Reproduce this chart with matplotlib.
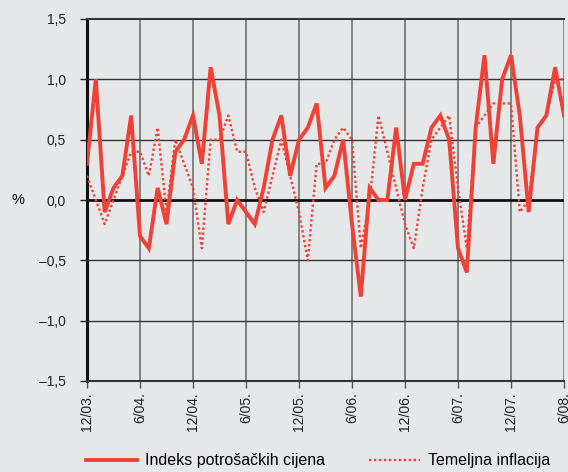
import matplotlib
matplotlib.use("Agg")
import matplotlib.pyplot as plt
from matplotlib.ticker import FuncFormatter

# monthly changes, 12/03 .. 6/08
months = ["12/03.", "6/04.", "12/04.", "6/05.", "12/05.", "6/06.", "12/06.", "6/07.", "12/07.", "6/08."]
cpi = [0.3, 1.0, -0.1, 0.1, 0.2, 0.7, -0.3, -0.4, 0.1, -0.2, 0.4, 0.5,
       0.7, 0.3, 1.1, 0.7, -0.2, 0.0, -0.1, -0.2, 0.1, 0.5, 0.7, 0.2,
       0.5, 0.6, 0.8, 0.1, 0.2, 0.5, -0.2, -0.8, 0.1, 0.0, 0.0, 0.6,
       0.0, 0.3, 0.3, 0.6, 0.7, 0.5, -0.4, -0.6, 0.6, 1.2, 0.3, 1.0,
       1.2, 0.7, -0.1, 0.6, 0.7, 1.1, 0.7]
core = [0.2, 0.0, -0.2, 0.0, 0.2, 0.4, 0.4, 0.2, 0.6, -0.1, 0.5, 0.3,
        0.1, -0.4, 0.5, 0.5, 0.7, 0.4, 0.4, 0.1, -0.1, 0.2, 0.5, 0.2,
        -0.1, -0.5, 0.3, 0.3, 0.5, 0.6, 0.5, -0.4, 0.0, 0.7, 0.4, 0.1,
        -0.2, -0.4, 0.1, 0.5, 0.6, 0.7, 0.1, -0.4, 0.6, 0.7, 0.8, 0.8,
        0.8, -0.1, 0.0, 0.6, 0.7, 1.0, 1.0]

plt.rcParams['font.family'] = ['Liberation Sans', 'DejaVu Sans']
bg = '#e6e7e9'
red = '#ef4136'

fig = plt.figure(figsize=(5.68, 4.72), dpi=100, facecolor=bg)
ax = fig.add_axes([87/568, 1-381/472, 477/568, 362/472], facecolor=bg)

x = list(range(len(cpi)))
ax.plot(x, cpi, color=red, lw=2.8, solid_joinstyle='miter', label='Indeks potrošačkih cijena', zorder=4)
ax.plot(x, core, color=red, lw=1.7, ls=(0, (1, 1.1)), label='Temeljna inflacija', zorder=3)

ax.set_xlim(0, 54)
ax.set_ylim(-1.5, 1.5)
ax.set_xticks(range(0, 55, 6))
ax.set_xticklabels(months, rotation=90, fontsize=10, color='#222222')
ax.set_yticks([-1.5, -1.0, -0.5, 0.0, 0.5, 1.0, 1.5])
ax.yaxis.set_major_formatter(FuncFormatter(lambda v, p: ('%.1f' % v).replace('-', '\u2013').replace('.', ',')))
ax.tick_params(axis='y', labelsize=10, length=5, width=1, colors='#222222', pad=10)
ax.tick_params(axis='x', length=5, width=1, color='#555555', pad=3)

for v in range(6, 55, 6):
    ax.axvline(v, color='#7a7a7a', lw=1.3, zorder=1)
for v in [-1.0, -0.5, 0.5, 1.0]:
    ax.axhline(v, color='#333333', lw=1.0, zorder=1)
ax.axhline(0, color='#111111', lw=2.0, zorder=2)

ax.spines['right'].set_visible(False)
ax.spines['left'].set_linewidth(2.2)
ax.spines['left'].set_color('#111111')
ax.spines['top'].set_linewidth(1.5)
ax.spines['top'].set_color('#333333')
ax.spines['bottom'].set_linewidth(1.5)
ax.spines['bottom'].set_color('#333333')

ax.set_ylabel('%', rotation=0, fontsize=10.5, va='center', ha='center')
ax.yaxis.set_label_coords(-0.145, 0.5)

fig.legend(loc='center', bbox_to_anchor=(0.56, 1-461/472), ncol=2, frameon=False,
           fontsize=11.5, handlelength=3.25, columnspacing=2.7, handletextpad=0.5)

fig.savefig('out.png', dpi=100, facecolor=bg)
